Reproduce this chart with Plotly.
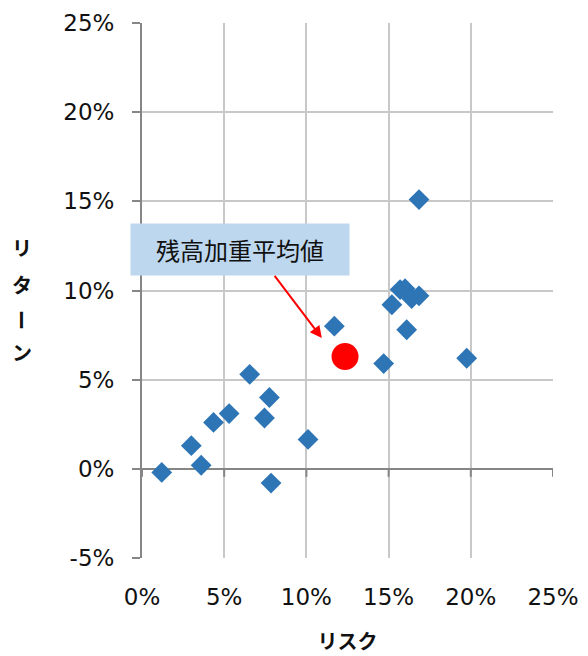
import plotly.graph_objects as go

# Data (percent)
risk = [1.2, 3.0, 3.6, 4.35, 5.3, 6.55, 7.45, 7.75, 7.85, 10.1, 11.7,
        14.7, 15.2, 15.7, 16.0, 16.1, 16.4, 16.85, 16.85, 19.75]
ret = [-0.2, 1.3, 0.2, 2.6, 3.1, 5.3, 2.85, 4.0, -0.8, 1.65, 8.0,
       5.9, 9.2, 10.05, 10.1, 7.8, 9.55, 9.7, 15.1, 6.2]
avg_risk = [12.35]
avg_ret = [6.3]
label_text = "残高加重平均値"
x_ticks = [0, 5, 10, 15, 20, 25]
y_ticks = [-5, 0, 5, 10, 15, 20, 25]
y_title_chars = ["リ", "タ", "ー", "ン"]

JP = "Noto Sans CJK JP"
NUM = "DejaVu Sans"
AXIS = "#868686"
GRID = "#C8C8C8"

fig = go.Figure()
fig.add_trace(go.Scatter(
    x=risk, y=ret, mode="markers",
    marker=dict(symbol="diamond", size=16, color="#2E75B6", line=dict(width=0)),
    showlegend=False, hoverinfo="skip"))
fig.add_trace(go.Scatter(
    x=avg_risk, y=avg_ret, mode="markers",
    marker=dict(symbol="circle", size=27, color="#FF0000", line=dict(width=0)),
    showlegend=False, hoverinfo="skip"))

# tick marks on the x axis line at y=0
shapes = []
for t in x_ticks:
    shapes.append(dict(type="line", xref="x", yref="y", x0=t, x1=t, y0=0, y1=-0.45,
                       line=dict(color=AXIS, width=2), layer="above"))
fig.update_layout(shapes=shapes)

fig.update_xaxes(range=[0, 25], tickvals=x_ticks, ticktext=[f"{v}%" for v in x_ticks],
                 showgrid=True, gridcolor=GRID, gridwidth=2, automargin=False,
                 zeroline=False, showline=False, ticks="",
                 tickfont=dict(family=NUM, size=23, color="#111111"),
                 ticklabelstandoff=23,
                 title=dict(text="<b>リスク</b>", font=dict(family=JP, size=20, color="#111111"),
                            standoff=25))
fig.update_yaxes(range=[-5, 25], tickvals=y_ticks, ticktext=[f"{v}%" for v in y_ticks],
                 showgrid=True, gridcolor=GRID, gridwidth=2, automargin=False,
                 zeroline=True, zerolinecolor=AXIS, zerolinewidth=2,
                 showline=True, linecolor=AXIS, linewidth=2,
                 ticks="outside", ticklen=8, tickcolor=AXIS, tickwidth=2,
                 tickfont=dict(family=NUM, size=23, color="#111111"),
                 ticklabelstandoff=13)

fig.add_annotation(x=5.98, y=12.28, xref="x", yref="y", text=label_text,
                   showarrow=False, bgcolor="#BDD7EE", width=216, height=49,
                   font=dict(family=JP, size=24, color="#111111"))
fig.add_annotation(x=10.94, y=7.33, ax=8.0, ay=10.9, xref="x", yref="y",
                   axref="x", ayref="y", text="", showarrow=True,
                   arrowhead=2, arrowsize=1.2, arrowwidth=2, arrowcolor="#FF0000")

# page has an 8px body margin, so plot area is offset by that amount
OFF = 8
L, T = 142 - OFF, 23 - OFF
PW, PH = 411, 535
title_y_px = [247, 284, 320, 352]
for ch, py in zip(y_title_chars, title_y_px):
    fig.add_annotation(x=(22 - 142) / PW, y=(558 - py) / PH, xref="paper", yref="paper",
                       xanchor="center", yanchor="middle",
                       text=f"<b>{ch}</b>", showarrow=False,
                       textangle=90 if ch == "ー" else 0,
                       font=dict(family=JP, size=20, color="#111111"))

fig.update_layout(width=588, height=656,
                  margin=dict(l=L, r=588 - L - PW, t=T, b=656 - T - PH),
                  plot_bgcolor="white", paper_bgcolor="white")

fig.write_html("out.html")
